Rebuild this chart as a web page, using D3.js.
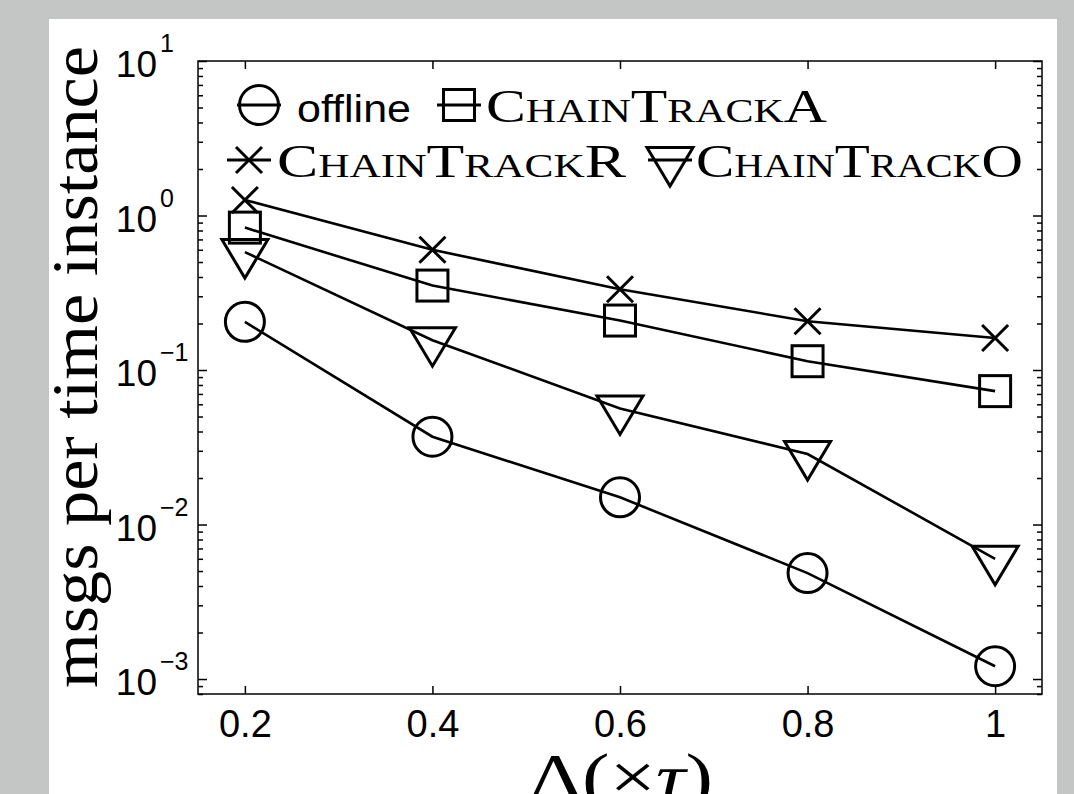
<!DOCTYPE html>
<html>
<head>
<meta charset="utf-8">
<script src="https://cdn.jsdelivr.net/npm/d3@7"></script>
<style>
  body { margin: 0; background: #c4c6c5; }
  .axis path, .axis line { stroke: #000; stroke-width: 1.5; }
  .axis text { fill: #000; font-family: "Liberation Sans", Arial, sans-serif; }
</style>
</head>
<body>
<div id="chart_div"></div>
<script>
// x values (Delta, in units of tau)
var deltas = [0.2, 0.4, 0.6, 0.8, 1];

// msgs per time instance
var offline     = [0.205, 0.037, 0.015, 0.00485, 0.00121];
var chainTrackA = [0.835, 0.352, 0.209, 0.114, 0.073];
var chainTrackR = [1.26, 0.60, 0.333, 0.207, 0.161];
var chainTrackO = [0.58, 0.156, 0.0564, 0.0286, 0.0060];

var xTicks = [0.2, 0.4, 0.6, 0.8, 1];
var yTicks = [1e-3, 1e-2, 1e-1, 1, 10];
var yExps  = ["\u22123", "\u22122", "\u22121", "0", "1"];

var series = [
    {name: "offline",     values: offline,     marker: "circle"},
    {name: "ChainTrackA", values: chainTrackA, marker: "square"},
    {name: "ChainTrackR", values: chainTrackR, marker: "cross"},
    {name: "ChainTrackO", values: chainTrackO, marker: "tri"}
];

var svg = d3.select("#chart_div").append("svg").attr("width", 1074).attr("height", 794),
    margin = {top: 61, right: 32, bottom: 100, left: 198},
    width = 1042 - margin.left,
    height = 694 - margin.top;

svg.append("rect").attr("x", 49).attr("y", 19).attr("width", 1008).attr("height", 800).attr("fill", "#fff");

var g = svg.append("g").attr("transform", "translate(" + margin.left + "," + margin.top + ")");

var x = d3.scaleLinear().domain([0.15, 1.05]).range([0, width]);
var y = d3.scaleLog().domain([8e-4, 10]).range([height, 0]);

// minor ticks for the log axis
var minor = [];
[1e-4, 1e-3, 1e-2, 1e-1, 1].forEach(function (b) {
    for (var k = 2; k <= 9; k++) {
        var v = b * k;
        if (v >= 8e-4 && v <= 10) minor.push(v);
    }
});

// frame
g.append("rect").attr("width", width).attr("height", height)
        .attr("fill", "none").attr("stroke", "#000").attr("stroke-width", 1.5);

// x axis bottom + top
g.append("g").attr("class", "axis").attr("transform", "translate(0," + height + ")")
        .call(d3.axisBottom(x).tickValues(xTicks).tickSizeInner(-8).tickSizeOuter(0)
                .tickFormat(function (d) { return d === 1 ? "1" : d3.format(".1f")(d); }))
        .call(function (s) { s.select(".domain").remove(); })
        .selectAll("text").style("font-size", "38px").attr("dy", null).attr("y", 43);
g.append("g").attr("class", "axis")
        .call(d3.axisTop(x).tickValues(xTicks).tickSizeInner(-8).tickSizeOuter(0).tickFormat(""))
        .call(function (s) { s.select(".domain").remove(); });

// y axis left + right, major and minor
g.append("g").attr("class", "axis")
        .call(d3.axisLeft(y).tickValues(yTicks).tickSizeInner(-9).tickSizeOuter(0).tickFormat(""))
        .call(function (s) { s.select(".domain").remove(); });
g.append("g").attr("class", "axis")
        .call(d3.axisLeft(y).tickValues(minor).tickSizeInner(-5).tickSizeOuter(0).tickFormat(""))
        .call(function (s) { s.select(".domain").remove(); });
g.append("g").attr("class", "axis").attr("transform", "translate(" + width + ",0)")
        .call(d3.axisRight(y).tickValues(yTicks).tickSizeInner(-9).tickSizeOuter(0).tickFormat(""))
        .call(function (s) { s.select(".domain").remove(); });
g.append("g").attr("class", "axis").attr("transform", "translate(" + width + ",0)")
        .call(d3.axisRight(y).tickValues(minor).tickSizeInner(-5).tickSizeOuter(0).tickFormat(""))
        .call(function (s) { s.select(".domain").remove(); });

// y tick labels 10^n
var yl = g.append("g").attr("font-family", "Liberation Sans, Arial, sans-serif");
yTicks.forEach(function (t, i) {
    yl.append("text").attr("x", -41).attr("y", y(t) + 16).attr("text-anchor", "end")
            .style("font-size", "37px").text("10");
    yl.append("text").attr("x", -38).attr("y", y(t) - 9)
            .style("font-size", "25px").text(yExps[i]);
});

// markers
function marker(sel, type) {
    sel.attr("fill", "none").attr("stroke", "#000").attr("stroke-width", 3)
            .attr("stroke-linejoin", "miter");
    if (type === "circle") {
        sel.append("circle").attr("r", 19.5);
    } else if (type === "square") {
        sel.append("rect").attr("x", -15.5).attr("y", -15.5).attr("width", 31).attr("height", 31);
    } else if (type === "cross") {
        sel.append("path").attr("d", "M-13,-13L13,13M-13,13L13,-13");
    } else {
        sel.append("path").attr("d", "M-23,-12.5L23,-12.5L0,26Z");
    }
}

var line = d3.line()
        .x(function (d, i) { return x(deltas[i]); })
        .y(function (d) { return y(d); });

series.forEach(function (s) {
    g.append("path").datum(s.values).attr("fill", "none").attr("stroke", "#000")
            .attr("stroke-width", 2.6).attr("d", line);
    s.values.forEach(function (v, i) {
        g.append("g").attr("transform", "translate(" + x(deltas[i]) + "," + y(v) + ")")
                .call(marker, s.marker);
    });
});

// legend
var legendItems = [
    {s: series[0], cx: 259, cy: 105, tx: 297, tw: 114, sc: false},
    {s: series[1], cx: 459, cy: 105, tx: 486, tw: 341, sc: true},
    {s: series[2], cx: 249, cy: 160, tx: 277, tw: 349, sc: true},
    {s: series[3], cx: 670, cy: 160, tx: 696, tw: 327, sc: true}
];
legendItems.forEach(function (it) {
    svg.append("line").attr("x1", it.cx - 22).attr("x2", it.cx + 22)
            .attr("y1", it.cy).attr("y2", it.cy).attr("stroke", "#000").attr("stroke-width", 3);
    svg.append("g").attr("transform", "translate(" + it.cx + "," + it.cy + ")").call(marker, it.s.marker);
    var t = svg.append("text").attr("x", it.tx).attr("y", it.cy + 17)
            .attr("textLength", it.tw).attr("lengthAdjust", "spacingAndGlyphs").text(it.s.name);
    if (it.sc) {
        t.style("font-family", "'Liberation Serif', 'DejaVu Serif', serif").style("font-size", "47px")
                .style("font-variant", "small-caps");
    } else {
        t.style("font-family", "'Liberation Sans', Arial, sans-serif").style("font-size", "39px");
    }
});

// axis titles
svg.append("text")
        .attr("transform", "translate(97," + 367 + ") rotate(-90)")
        .attr("text-anchor", "middle")
        .attr("textLength", 642).attr("lengthAdjust", "spacingAndGlyphs")
        .style("font-family", "'Liberation Serif', serif").style("font-size", "66px")
        .text("msgs per time instance");

svg.append("text")
        .attr("x", 621).attr("y", 799)
        .attr("text-anchor", "middle")
        .attr("textLength", 184).attr("lengthAdjust", "spacingAndGlyphs")
        .style("font-family", "'Liberation Serif', serif").style("font-size", "66px")
        .html("\u0394(\u00d7<tspan font-style='italic'>\u03c4</tspan>)");
</script>
</body>
</html>
